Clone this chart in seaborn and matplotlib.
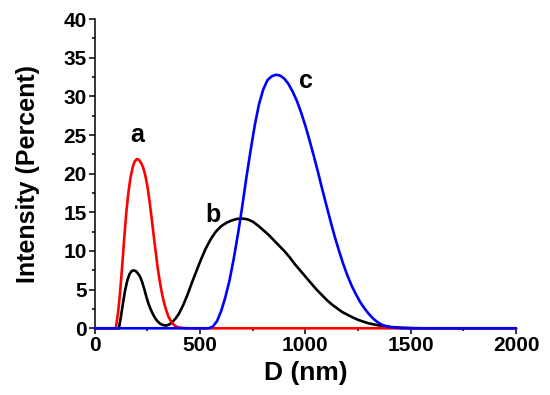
import numpy as np
import pandas as pd
import seaborn as sns
import matplotlib.pyplot as plt
from matplotlib.ticker import MultipleLocator

# curve a (red)
a_x = [0, 100, 110, 120, 130, 140, 150, 160, 170, 180, 190, 200, 210, 220, 230,
       240, 250, 260, 270, 280, 290, 300, 310, 320, 330, 340, 350, 360, 370, 380,
       390, 400, 420, 450, 1400, 2000]
a_y = [0, 0, 1.8, 4.5, 7.9, 11.6, 15.0, 17.6, 19.5, 20.8, 21.6, 21.9, 21.8, 21.4, 20.8,
       19.8, 18.4, 16.5, 14.3, 12.0, 9.8, 7.6, 5.9, 4.4, 3.2, 2.3, 1.5, 1.0, 0.6, 0.35,
       0.2, 0.1, 0.03, 0, 0, 0]

# curve b (black)
b_x = [0, 115, 125, 135, 145, 155, 165, 175, 185, 195, 205, 215, 225, 235, 245,
       255, 265, 275, 285, 295, 310, 325, 340, 355, 370, 385, 400, 420, 440, 460,
       480, 500, 525, 550, 575, 600, 625, 650, 675, 700, 725, 750, 775, 800, 825,
       850, 875, 900, 925, 950, 975, 1000, 1025, 1050, 1075, 1100, 1125, 1150, 1175, 1200,
       1225, 1250, 1275, 1300, 1325, 1350, 1375, 1400, 1450, 1500, 1550, 2000]
b_y = [0, 0, 1.6, 3.4, 5.0, 6.2, 7.0, 7.4, 7.5, 7.4, 7.1, 6.7, 6.0, 5.1, 4.1,
       3.2, 2.5, 1.9, 1.4, 1.0, 0.6, 0.4, 0.35, 0.5, 0.85, 1.3, 1.9, 3.0, 4.3, 5.8,
       7.2, 8.6, 10.2, 11.5, 12.5, 13.2, 13.65, 13.95, 14.15, 14.2, 14.1, 13.8, 13.3, 12.7, 12.1,
       11.4, 10.7, 10.0, 9.2, 8.3, 7.5, 6.7, 5.9, 5.1, 4.4, 3.7, 3.1, 2.6, 2.1, 1.75,
       1.4, 1.1, 0.86, 0.65, 0.5, 0.37, 0.27, 0.18, 0.08, 0.03, 0, 0]

# curve c (blue)
c_x = [0, 540, 560, 580, 600, 620, 640, 660, 680, 690, 700, 720, 740, 760, 780,
       800, 820, 840, 860, 880, 900, 920, 940, 960, 980, 1000, 1020, 1040, 1060, 1080,
       1100, 1120, 1140, 1160, 1180, 1200, 1220, 1240, 1260, 1280, 1300, 1320, 1340, 1360, 1380,
       1400, 1450, 1500, 2000]
c_y = [0, 0, 0.2, 0.9, 2.2, 4.0, 6.2, 9.0, 12.2, 13.9, 15.7, 19.5, 23.0, 26.3, 29.0,
       30.9, 32.1, 32.6, 32.8, 32.7, 32.3, 31.6, 30.6, 29.4, 27.9, 26.2, 24.3, 22.3, 20.2, 18.0,
       15.9, 13.8, 11.8, 10.0, 8.3, 6.8, 5.5, 4.4, 3.4, 2.6, 1.9, 1.3, 0.85, 0.5, 0.3,
       0.15, 0.03, 0, 0]

labels = ["a", "b", "c"]
label_pos = [(202, 25.0), (563, 14.7), (1002, 32.0)]

sns.set_style("ticks")
plt.rcParams['font.family'] = ['Liberation Sans', 'DejaVu Sans']
plt.rcParams['font.weight'] = 'bold'
for key in ['text.color', 'axes.labelcolor', 'xtick.color', 'ytick.color', 'axes.edgecolor']:
    plt.rcParams[key] = 'black'

fig = plt.figure(figsize=(5.5, 3.95), dpi=100)
ax = fig.add_axes([0.1722, 0.1689, 0.766, 0.7827])

for xs, ys, col in [(b_x, b_y, 'black'), (a_x, a_y, 'red'), (c_x, c_y, 'blue')]:
    sns.lineplot(x=xs, y=ys, sort=False, color=col, linewidth=1.9, ax=ax,
                 clip_on=False, estimator=None, zorder=3)

for lab, (lx, ly) in zip(labels, label_pos):
    ax.text(lx, ly, lab, fontsize=18, fontweight='bold', ha='center', va='center')

ax.set_xlim(0, 2000)
ax.set_ylim(0, 40)
ax.xaxis.set_major_locator(MultipleLocator(500))
ax.xaxis.set_minor_locator(MultipleLocator(250))
ax.yaxis.set_major_locator(MultipleLocator(5))
ax.yaxis.set_minor_locator(MultipleLocator(2.5))
ax.tick_params(which='major', direction='out', length=4.3, width=1.1, labelsize=15, pad=1.5)
ax.tick_params(which='minor', direction='out', length=2.2, width=1.1)
for lbl in ax.get_xticklabels() + ax.get_yticklabels():
    lbl.set_fontweight('bold')

for side in ['top', 'right']:
    ax.spines[side].set_visible(False)
for side in ['left', 'bottom']:
    ax.spines[side].set_linewidth(1.1)

ax.set_xlabel("D (nm)", fontsize=19, fontweight='bold', labelpad=4)
ax.set_ylabel("Intensity (Percent)", fontsize=18, fontweight='bold', labelpad=17)

fig.savefig("out.png", dpi=100)
